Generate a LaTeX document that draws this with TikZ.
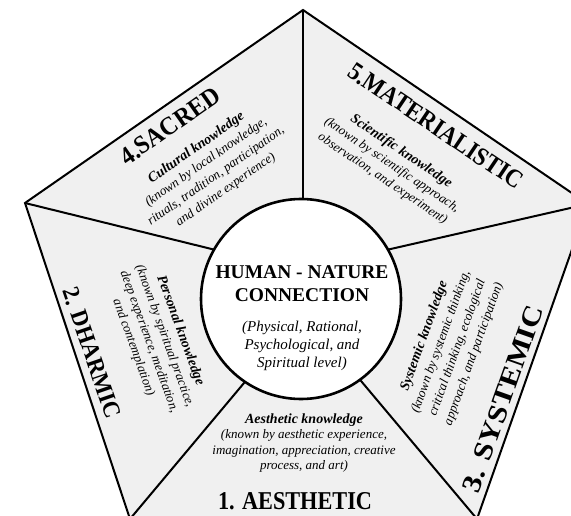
\documentclass[tikz,border=0pt]{standalone}
\usepackage{fontspec}
\setmainfont{Liberation Serif}
\usepackage{graphicx}
\definecolor{secfill}{RGB}{240,240,240}
\newcommand{\ttlbox}[3]{\resizebox{#1pt}{#2pt}{\bfseries #3}}
\tikzset{
  edgeline/.style={line width=2pt, line join=miter},
  spoke/.style={line width=2pt},
  hub/.style={circle, draw, fill=white, line width=2.6pt, minimum size=200pt, inner sep=0pt},
  ttl/.style={inner sep=0pt},
  sub/.style={align=center, inner sep=0pt, font=\fontsize{13}{16.5}\selectfont\itshape},
}
\begin{document}
\begin{tikzpicture}[x=1pt,y=-1pt]
\useasboundingbox (0,0) rectangle (571,516);
\clip (0,0) rectangle (571,516);
% vertices
\coordinate (T) at (303,10);
\coordinate (R) at (588,204);
\coordinate (BR) at (477,519);
\coordinate (BL) at (130,519);
\coordinate (L) at (25,203);
% inner spoke ends (hidden under the hub)
\coordinate (Ti) at (303,230);
\coordinate (Ri) at (360,256);
\coordinate (BRi) at (335,350);
\coordinate (BLi) at (270,352);
\coordinate (Li) at (240,256);
\fill[secfill] (T) -- (R) -- (BR) -- (BL) -- (L) -- cycle;
\draw[spoke] (T) -- (Ti);
\draw[spoke] (R) -- (Ri);
\draw[spoke] (BR) -- (BRi);
\draw[spoke] (BL) -- (BLi);
\draw[spoke] (L) -- (Li);
\draw[edgeline] (T) -- (R) -- (BR) -- (BL) -- (L) -- cycle;
\node[hub] (hub) at (301,299) {};
% hub text
\node[align=center, inner sep=0pt, font=\fontsize{19.5}{23}\selectfont\bfseries] (hubtitle) at (302,284) {HUMAN - NATURE\\CONNECTION};
\node[align=center, inner sep=0pt, font=\fontsize{15}{18}\selectfont\itshape] (hublevel) at (302,346) {(Physical, Rational,\\Psychological, and\\Spiritual level)};
% titles
\node[ttl, rotate=35] (t4) at (170,126) {\ttlbox{116}{17}{4.SACRED}};
\node[ttl, rotate=-34] (t5) at (436,126) {\ttlbox{205}{17}{5.MATERIALISTIC}};
\node[ttl, rotate=-71] (t2) at (92,353) {\ttlbox{137}{16}{2. DHARMIC}};
\node[ttl, rotate=70.5] (t3) at (503,399) {\ttlbox{196}{18}{3. SYSTEMIC}};
\node[ttl] (t1) at (295,501) {\ttlbox{154}{17}{1. AESTHETIC}};
% sector texts
\node[sub, rotate=35, font=\fontsize{13}{17}\selectfont\itshape] (k4) at (211,169) {{\bfseries\fontsize{14}{17}\selectfont Cultural knowledge}\\(known by local knowledge,\\rituals, tradition, participation,\\and divine experience)};
\node[sub, rotate=-34] (k5) at (392,165) {{\bfseries\fontsize{14}{16.5}\selectfont Scientific knowledge}\\(known by scientific approach,\\observation, and experiment)};
\node[sub, rotate=-70] (k2) at (157,339) {{\bfseries\fontsize{14}{16.5}\selectfont Personal knowledge}\\(known by spiritual practice,\\deep experience, meditation,\\and contemplation)};
\node[sub, rotate=70, font=\fontsize{13}{17.5}\selectfont\itshape] (k3) at (449,345) {{\bfseries\fontsize{14}{17.5}\selectfont Systemic knowledge}\\(known by systemic thinking,\\critical thinking, ecological\\approach, and participation)};
\node[sub, font=\fontsize{13}{15.5}\selectfont\itshape] (k1) at (304,443) {{\bfseries\fontsize{14}{15.5}\selectfont Aesthetic knowledge}\\(known by aesthetic experience,\\imagination, appreciation, creative\\process, and art)};
\end{tikzpicture}
\end{document}
